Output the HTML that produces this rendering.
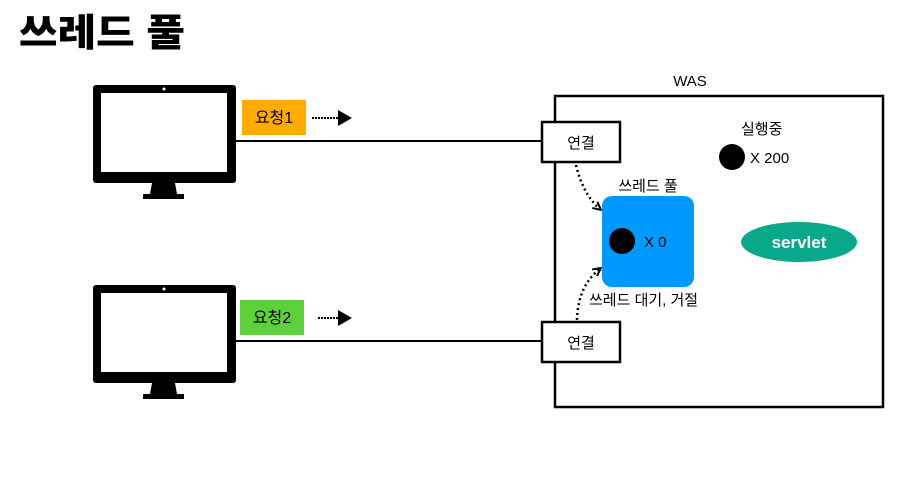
<!DOCTYPE html>
<html><head><meta charset="utf-8"><style>
body{margin:0;background:#fff;width:906px;height:488px;overflow:hidden}
</style></head><body>
<svg width="906" height="488" xmlns="http://www.w3.org/2000/svg" font-family="Liberation Sans, Noto Sans CJK KR, sans-serif">
<defs><marker id="a" markerWidth="8" markerHeight="8" refX="6" refY="4" orient="auto"><path d="M0,0 L7,4 L0,8 Z" fill="#000"/></marker>
<marker id="b" markerWidth="10" markerHeight="10" refX="9" refY="5" orient="auto" markerUnits="userSpaceOnUse"><path d="M1,1 L9,5 L1,9" fill="none" stroke="#000" stroke-width="2"/></marker></defs>
<text x="19" y="46" font-size="38" font-weight="900" textLength="166" lengthAdjust="spacingAndGlyphs">쓰레드 풀</text>
<g id="m">
<rect x="93" y="85" width="143" height="98" rx="3" fill="#000"/>
<rect x="101" y="93" width="126" height="79" fill="#fff"/>
<circle cx="164" cy="89" r="1.5" fill="#fff"/>
<path d="M152,183 L175,183 L177,194 L150,194 Z" fill="#000"/>
<rect x="143" y="194" width="41" height="5" fill="#000"/>
</g>
<use href="#m" y="200"/>
<line x1="235" y1="141" x2="542" y2="141" stroke="#000" stroke-width="2"/>
<line x1="235" y1="341" x2="542" y2="341" stroke="#000" stroke-width="2"/>
<rect x="555" y="96" width="328" height="311" fill="none" stroke="#000" stroke-width="2.5"/>
<text x="690" y="86" font-size="15" text-anchor="middle">WAS</text>
<rect x="542" y="122" width="78" height="40" fill="#fff" stroke="#000" stroke-width="2.5"/>
<text x="581" y="148" font-size="15" text-anchor="middle">연결</text>
<rect x="542" y="322" width="78" height="40" fill="#fff" stroke="#000" stroke-width="2.5"/>
<text x="581" y="348" font-size="15" text-anchor="middle">연결</text>
<rect x="242" y="100" width="64" height="35" fill="#ffab00"/>
<text x="274" y="123" font-size="16" text-anchor="middle">요청1</text>
<rect x="240" y="300" width="64" height="35" fill="#5ed13a"/>
<text x="272" y="323" font-size="16" text-anchor="middle">요청2</text>
<line x1="312" y1="118" x2="350" y2="118" stroke="#000" stroke-width="2" stroke-dasharray="2,1" marker-end="url(#a)"/>
<line x1="318" y1="318" x2="350" y2="318" stroke="#000" stroke-width="2" stroke-dasharray="2,1" marker-end="url(#a)"/>
<text x="648" y="191" font-size="15" text-anchor="middle">쓰레드 풀</text>
<rect x="602" y="196" width="92" height="91" rx="10" fill="#0099ff"/>
<circle cx="622" cy="241" r="13" fill="#000"/>
<text x="644" y="247" font-size="15">X 0</text>
<path d="M576,165 Q583,195 601,210" fill="none" stroke="#000" stroke-width="2.5" stroke-dasharray="2,3" marker-end="url(#b)"/>
<path d="M577,320 Q578,285 601,268" fill="none" stroke="#000" stroke-width="2.5" stroke-dasharray="2,3" marker-end="url(#b)"/>
<text x="589" y="305" font-size="15">쓰레드 대기, 거절</text>
<text x="741" y="134" font-size="15">실행중</text>
<circle cx="732" cy="157" r="13" fill="#000"/>
<text x="750" y="163" font-size="15">X 200</text>
<ellipse cx="799" cy="242" rx="58" ry="20" fill="#0aa88a"/>
<text x="799" y="248" font-size="17" font-weight="bold" fill="#fff" text-anchor="middle">servlet</text>
</svg>
</body></html>
